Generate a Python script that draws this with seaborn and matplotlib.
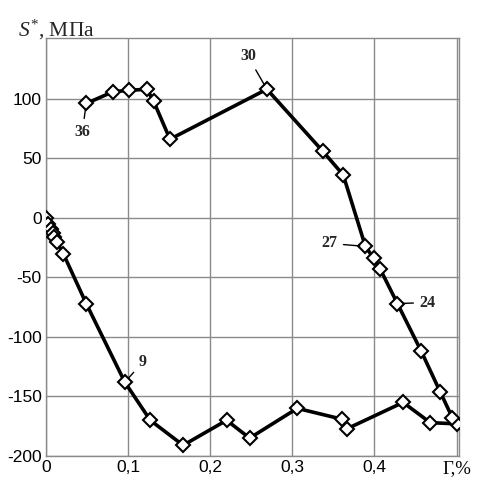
import matplotlib
matplotlib.use("Agg")
import matplotlib.pyplot as plt
import seaborn as sns
import pandas as pd

# Path of points (strain Γ, %; stress S*, MPa), in loading order
gamma = [0.0, 0.003, 0.006, 0.008, 0.010, 0.013, 0.021, 0.049, 0.096,
         0.127, 0.167, 0.220, 0.248, 0.306, 0.360, 0.367, 0.435, 0.468,
         0.500, 0.495, 0.480, 0.457, 0.428, 0.407, 0.399, 0.389, 0.362,
         0.337, 0.269, 0.151, 0.131, 0.123, 0.101, 0.082, 0.049]
stress = [0, -5, -9, -13, -16, -20, -30, -72, -138,
          -170, -191, -170, -185, -160, -169, -177, -155, -172,
          -173, -168, -146, -112, -72, -43, -34, -24, 36,
          56, 108, 66, 98, 108, 107, 106, 96]

x_ticks = [0, 0.1, 0.2, 0.3, 0.4, 0.5]
x_tick_labels = ["0", "0,1", "0,2", "0,3", "0,4", "Γ,%"]
y_ticks = [-200, -150, -100, -50, 0, 50, 100]
y_tick_labels = ["-200", "-150", "-100", "-50", "0", "50", "100"]

# point annotations: label and index into path
ann_labels = ["9", "24", "27", "30", "36"]
ann_index = [8, 22, 25, 28, 34]

df = pd.DataFrame({"gamma": gamma, "stress": stress})

sns.set_style("white")
plt.rcParams["font.family"] = ["Liberation Sans", "DejaVu Sans"]
plt.rcParams["mathtext.fontset"] = "custom"
plt.rcParams["mathtext.rm"] = "Liberation Serif"
plt.rcParams["mathtext.it"] = "Liberation Serif:italic"

fig = plt.figure(figsize=(4.83, 4.79), dpi=100)
ax = fig.add_axes([46 / 483, 1 - 456 / 479, (459 - 46) / 483, (456 - 38) / 479])

sns.lineplot(data=df, x="gamma", y="stress", sort=False, estimator=None,
             color="black", linewidth=2.6, marker="D", markersize=7.5,
             markerfacecolor="white", markeredgecolor="black",
             markeredgewidth=1.5, ax=ax, zorder=3)

ax.set_xlim(0, 0.503)
ax.set_ylim(-200, 151)
ax.set_xticks(x_ticks)
ax.set_xticklabels(x_tick_labels)
ax.set_yticks(y_ticks)
ax.set_yticklabels(y_tick_labels)
ax.tick_params(axis="both", length=0, labelsize=12.5, pad=3, colors="black")
lbl = ax.get_xticklabels()[-1]
lbl.set_fontfamily("Liberation Serif")
lbl.set_fontsize(13.5)
ax.grid(True, color="#8a8a8a", linewidth=1.0)
for s in ax.spines.values():
    s.set_color("#8a8a8a")
    s.set_linewidth(1.0)
ax.set_xlabel("")
ax.set_ylabel("")

# annotations (offsets in pixels -> points)
px = 72 / 100
offsets = {"9": (18, 20), "24": (30, 1), "27": (-36, 3), "30": (-19, 33), "36": (-4, -29)}
for lab, idx in zip(ann_labels, ann_index):
    ox, oy = offsets[lab]
    ax.annotate(lab, xy=(gamma[idx], stress[idx]), xytext=(ox * px, oy * px),
                textcoords="offset points", ha="center", va="center",
                fontsize=11.5, fontweight="bold", family="Liberation Serif",
                arrowprops=dict(arrowstyle="-", color="black", lw=1.0,
                                shrinkA=2, shrinkB=4), zorder=4)

fig.text(18 / 483, 1 - 30 / 479, r"$S^{*}$, МПа", fontsize=15.5,
         family="Liberation Serif", va="center", ha="left")

fig.savefig("out.png", dpi=100)
